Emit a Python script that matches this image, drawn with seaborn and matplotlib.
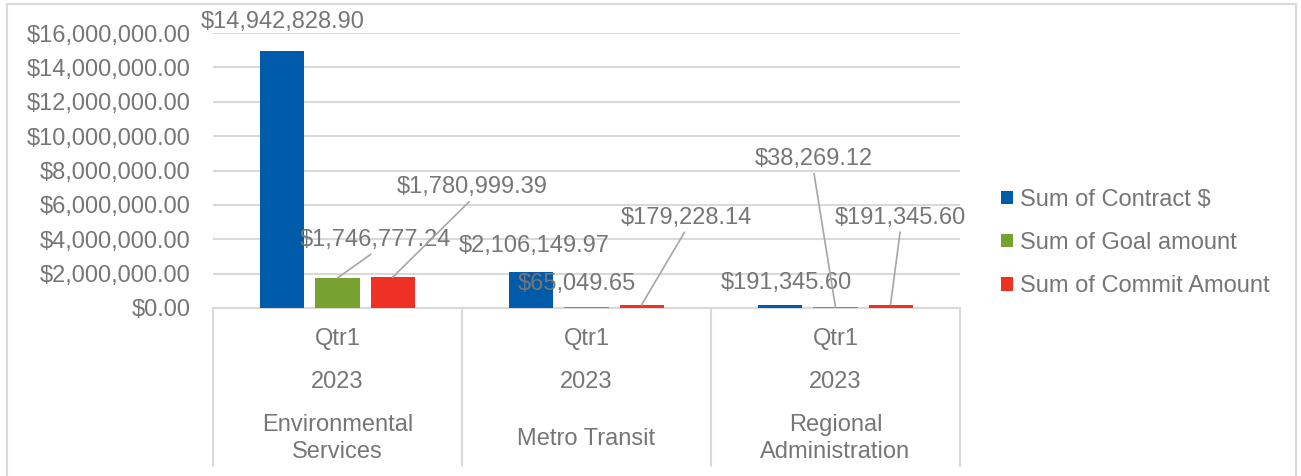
import pandas as pd
import numpy as np
import matplotlib.pyplot as plt
import matplotlib.ticker as mticker
from matplotlib.patches import Patch
from matplotlib.lines import Line2D
import seaborn as sns

sns.set_style("white")
plt.rcParams['font.family'] = ['Liberation Sans', 'DejaVu Sans']

# Chart data
departments = ['Environmental\nServices', 'Metro Transit', 'Regional\nAdministration']
quarter = ['Qtr1', 'Qtr1', 'Qtr1']
year = ['2023', '2023', '2023']
series = ['Sum of Contract $', 'Sum of Goal amount', 'Sum of Commit Amount']
contract = [14942828.90, 2106149.97, 191345.60]
goal = [1746777.24, 65049.65, 38269.12]
commit = [1780999.39, 179228.14, 191345.60]

colors = ['#005BAA', '#77A22F', '#EE3124']
text_gray = '#767676'
grid_gray = '#D9D9D9'

# label offsets (pixels) from bar top, per series then department
label_offsets = [
    [(0, 29), (3, 26), (6, 22)],
    [(38, 38), (-10, 23), (-22, 148)],
    [(80, 90), (45, 87), (10, 87)],
]
leaders = [
    [False, False, False],
    [True, False, True],
    [True, True, True],
]

df = pd.DataFrame({
    'dept': departments * 3,
    'series': np.repeat(series, 3),
    'amount': contract + goal + commit,
})

fig = plt.figure(figsize=(13.01, 4.76), dpi=100)
ax = fig.add_axes([213 / 1301, 1 - 308 / 476, 747 / 1301, 275 / 476])

sns.barplot(data=df, x='dept', y='amount', hue='series', order=departments,
            hue_order=series, palette=colors, saturation=1, width=0.663, gap=0.2,
            errorbar=None, legend=False, linewidth=0, ax=ax, zorder=3)

ax.set_xlim(-0.5, 2.5)
ax.set_ylim(0, 16e6)
ax.set_yticks(np.arange(0, 16e6 + 1, 2e6))
ax.yaxis.set_major_formatter(mticker.FuncFormatter(lambda v, p: f'${v:,.2f}'))
ax.tick_params(axis='y', length=0, pad=16, labelsize=17, labelcolor=text_gray)
ax.tick_params(axis='x', length=0, labelbottom=False)
ax.set_xlabel('')
ax.set_ylabel('')
ax.grid(axis='y', color=grid_gray, linewidth=1.5, zorder=0)
for s in ['left', 'right', 'top']:
    ax.spines[s].set_visible(False)
ax.spines['bottom'].set_color(grid_gray)
ax.spines['bottom'].set_linewidth(1.5)

# multi-level category axis
trans = ax.get_xaxis_transform()
for xb in [-0.5, 0.5, 1.5, 2.5]:
    ax.plot([xb, xb], [0, -0.575], transform=trans, color=grid_gray,
            linewidth=1.5, clip_on=False)
for i in range(len(departments)):
    ax.text(i, -0.112, quarter[i], transform=trans, ha='center', va='center',
            fontsize=17, color=text_gray)
    ax.text(i, -0.269, year[i], transform=trans, ha='center', va='center',
            fontsize=17, color=text_gray)
    ax.text(i, -0.475, departments[i], transform=trans, ha='center', va='center',
            fontsize=17, color=text_gray, linespacing=1.27)

# data labels
for si, cont in enumerate(ax.containers):
    for di, bar in enumerate(cont):
        xc = bar.get_x() + bar.get_width() / 2
        h = bar.get_height()
        props = None
        if leaders[si][di]:
            props = dict(arrowstyle='-', color='#A6A6A6', linewidth=1.2,
                         shrinkA=0, shrinkB=0, relpos=(0.5, 0))
        ax.annotate(f'${h:,.2f}', xy=(xc, h), xytext=label_offsets[si][di],
                    textcoords='offset pixels', ha='center', va='center',
                    fontsize=17, color=text_gray, arrowprops=props,
                    annotation_clip=False, zorder=5)

# legend
handles = [Patch(facecolor=c, edgecolor='none') for c in colors]
fig.legend(handles, series, loc='center left', bbox_to_anchor=(0.7694, 0.4893),
           frameon=False, fontsize=17, labelcolor=text_gray, handlelength=0.5,
           handleheight=0.5, handletextpad=0.3, labelspacing=0.9, borderpad=0,
           borderaxespad=0)

# chart frame
for xs, ys in [([7, 7], [476, 4]), ([7, 1296], [4, 4]), ([1296, 1296], [4, 476])]:
    fig.add_artist(Line2D([x / 1301 for x in xs], [1 - y / 476 for y in ys],
                          color=grid_gray, linewidth=1.5))

plt.savefig('out.png', dpi=100)
